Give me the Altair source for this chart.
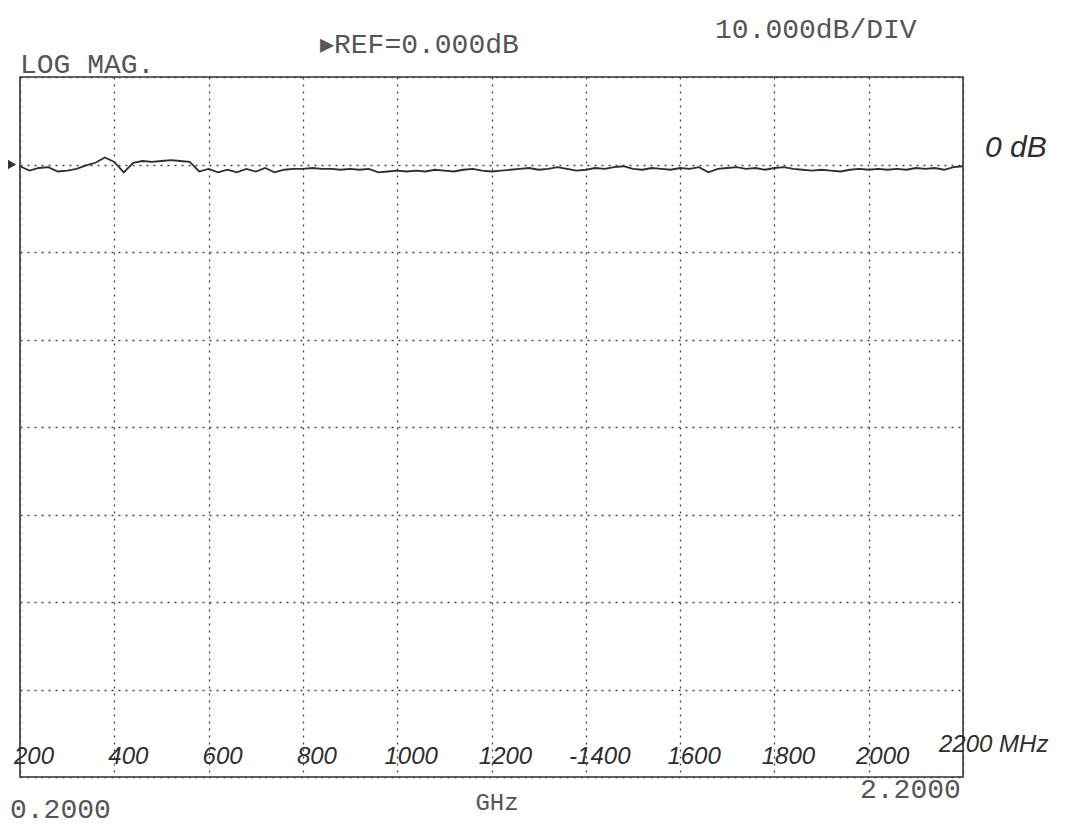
import altair as alt
import pandas as pd

freq_mhz = list(range(200, 2201, 20))
trace_db = [
    -0.2, -0.7, -0.4, -0.3, -0.8, -0.7, -0.5, -0.1, 0.2, 0.8,
    0.3, -0.9, 0.2, 0.4, 0.3, 0.4, 0.5, 0.4, 0.3, -0.8,
    -0.5, -0.9, -0.6, -0.9, -0.5, -0.8, -0.4, -0.9, -0.6, -0.5,
    -0.5, -0.4, -0.5, -0.5, -0.6, -0.5, -0.6, -0.5, -0.9, -0.8,
    -0.7, -0.8, -0.7, -0.8, -0.6, -0.7, -0.8, -0.6, -0.5, -0.7,
    -0.8, -0.7, -0.6, -0.5, -0.4, -0.6, -0.5, -0.3, -0.5, -0.7,
    -0.6, -0.4, -0.5, -0.3, -0.2, -0.5, -0.6, -0.4, -0.5, -0.6,
    -0.4, -0.5, -0.3, -0.9, -0.5, -0.4, -0.3, -0.5, -0.4, -0.6,
    -0.4, -0.3, -0.5, -0.6, -0.7, -0.6, -0.7, -0.8, -0.6, -0.5,
    -0.6, -0.5, -0.6, -0.5, -0.6, -0.4, -0.5, -0.4, -0.6, -0.3,
    -0.2,
]

# Grid divisions
x_ticks = [200, 400, 600, 800, 1000, 1200, 1400, 1600, 1800, 2000, 2200]
y_ticks = [10, 0, -10, -20, -30, -40, -50, -60, -70]

# Handwritten frequency labels
hand_freqs = [200, 400, 600, 800, 1000, 1200, 1400, 1600, 1800, 2000]
hand_labels = ["200", "400", "600", "800", "1000", "1200", "-1400", "1600", "1800", "2000"]
end_freq = [2200]
end_label = ["2200 MHz"]

ref_level = [0.0]

df = pd.DataFrame({"freq": freq_mhz, "db": trace_db})
lab_df = pd.DataFrame({"freq": hand_freqs, "label": hand_labels})
end_df = pd.DataFrame({"freq": end_freq, "label": end_label})
ref_df = pd.DataFrame({"db": ref_level})

xscale = alt.Scale(domain=[200, 2200], nice=False, zero=False)
yscale = alt.Scale(domain=[-70, 10], nice=False, zero=False)

grid_axis_x = alt.Axis(values=x_ticks, labels=False, ticks=False, domain=False,
                       grid=True, title=None)
grid_axis_y = alt.Axis(values=y_ticks, labels=False, ticks=False, domain=False,
                       grid=True, title=None)

trace = alt.Chart(df).mark_line(color="#2e2e2e", strokeWidth=1.8).encode(
    x=alt.X("freq:Q", scale=xscale, axis=grid_axis_x),
    y=alt.Y("db:Q", scale=yscale, axis=grid_axis_y),
)

marker = alt.Chart(ref_df).mark_point(
    shape="triangle-right", filled=True, size=90, color="#333333", opacity=1
).encode(x=alt.value(-8), y=alt.Y("db:Q", scale=yscale))

PRINT_FONT = "Liberation Mono"
HAND_FONT = "Liberation Sans"
PRINT_COLOR = "#555555"
HAND_COLOR = "#2e2e2e"


def print_text(txt, x, y, align="left", size=28):
    return alt.Chart(ref_df).mark_text(
        font=PRINT_FONT, fontSize=size, color=PRINT_COLOR, align=align,
        baseline="middle"
    ).encode(x=alt.value(x), y=alt.value(y), text=alt.value(txt))


hand = alt.Chart(lab_df).mark_text(
    font=HAND_FONT, fontStyle="italic", fontSize=24, color=HAND_COLOR,
    align="center", baseline="middle", dx=14
).encode(x=alt.X("freq:Q", scale=xscale), y=alt.value(680), text="label:N")

hand_end = alt.Chart(end_df).mark_text(
    font=HAND_FONT, fontStyle="italic", fontSize=24, color=HAND_COLOR,
    align="left", baseline="middle", dx=-24
).encode(x=alt.X("freq:Q", scale=xscale), y=alt.value(668), text="label:N")

odb = alt.Chart(ref_df).mark_text(
    font=HAND_FONT, fontStyle="italic", fontSize=30, color=HAND_COLOR,
    align="left", baseline="middle"
).encode(x=alt.value(965), y=alt.value(71), text=alt.value("0 dB"))

chart = alt.layer(
    trace,
    marker,
    hand,
    hand_end,
    odb,
    print_text("LOG MAG.", 0, -12),
    print_text("\u25b8REF=0.000dB", 300, -32),
    print_text("10.000dB/DIV", 695, -47),
    print_text("0.2000", -10, 733),
    print_text("GHz", 477, 726, align="center", size=24),
    print_text("2.2000", 840, 713),
).properties(
    width=943,
    height=700,
    autosize=alt.AutoSizeParams(type="none"),
    padding={"left": 12, "top": 69, "right": 110, "bottom": 57},
    background="white",
).configure_view(
    stroke="#333333", strokeWidth=1.6
).configure_axis(
    gridColor="#444444", gridWidth=1.3, gridDash=[2, 5], gridOpacity=1
)

chart.save("out.html", embed_options={"renderer": "svg", "actions": False})
